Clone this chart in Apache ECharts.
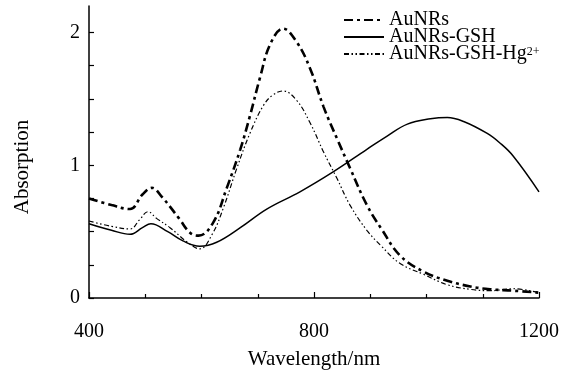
<!DOCTYPE html>
<html>
<head>
<meta charset="utf-8">
<script src="https://cdn.jsdelivr.net/npm/echarts@6/dist/echarts.min.js"></script>
<style>
  html, body { margin: 0; padding: 0; background: #fff; }
  #chart { width: 574px; height: 375px; }
</style>
</head>
<body>
<div id="chart"></div>
<script>
// Spectra: [wavelength (nm), absorption]
const aunrs = [
  [400, 0.75], [440, 0.70], [473, 0.67], [495, 0.78], [512, 0.83], [530, 0.76],
  [560, 0.60], [580, 0.49], [595, 0.47], [621, 0.57], [645, 0.83], [669, 1.12],
  [686, 1.37], [704, 1.66], [722, 1.91], [745, 2.03], [769, 1.93], [793, 1.73],
  [817, 1.44], [841, 1.20], [864, 0.98], [894, 0.70], [920, 0.52], [953, 0.32],
  [994, 0.20], [1037, 0.13], [1078, 0.087], [1113, 0.066], [1154, 0.055], [1200, 0.04]
];
const aunrsGsh = [
  [400, 0.56], [440, 0.51], [473, 0.48], [495, 0.53], [510, 0.56], [540, 0.50],
  [567, 0.43], [597, 0.39], [627, 0.42], [669, 0.53], [716, 0.67], [775, 0.80],
  [834, 0.95], [894, 1.12], [930, 1.22], [966, 1.31], [1007, 1.35], [1037, 1.36],
  [1066, 1.33], [1108, 1.24], [1130, 1.17], [1154, 1.07], [1200, 0.80]
];
const aunrsGshHg = [
  [400, 0.58], [440, 0.54], [473, 0.52], [490, 0.59], [505, 0.65], [520, 0.60],
  [544, 0.53], [575, 0.42], [597, 0.37], [619, 0.48], [639, 0.68], [663, 0.98],
  [686, 1.24], [710, 1.45], [727, 1.53], [745, 1.56], [769, 1.49], [793, 1.32],
  [817, 1.10], [841, 0.90], [864, 0.70], [894, 0.51], [920, 0.39], [953, 0.26],
  [994, 0.18], [1037, 0.10], [1078, 0.065], [1113, 0.055], [1154, 0.07], [1200, 0.04]
];
const seriesNames = ['AuNRs', 'AuNRs-GSH', 'AuNRs-GSH-Hg2+'];
const yTicks = [0, 0.25, 0.5, 0.75, 1, 1.25, 1.5, 1.75, 2];
const yLabels = [0, 1, 2];

const FONT = '"Liberation Serif", "DejaVu Serif", serif';
const chart = echarts.init(document.getElementById('chart'));

chart.setOption({
  backgroundColor: '#fff',
  animation: false,
  grid: { left: 89, right: 35, top: 6, bottom: 69 },
  legend: {
    orient: 'vertical',
    left: 343,
    top: 10,
    padding: 0,
    itemGap: -3,
    itemWidth: 40,
    itemHeight: 10,
    data: seriesNames,
    itemStyle: { opacity: 0 },
    textStyle: {
      fontFamily: FONT, fontSize: 20, color: '#000', lineHeight: 16,
      rich: {
        sup: { fontFamily: FONT, fontSize: 12, color: '#000', verticalAlign: 'top', lineHeight: 16, padding: [0, 0, 8, 0] }
      }
    },
    formatter: function (name) {
      return name === 'AuNRs-GSH-Hg2+' ? 'AuNRs-GSH-Hg{sup|2+}' : name;
    }
  },
  xAxis: {
    type: 'value',
    min: 400,
    max: 1200,
    interval: 400,
    name: 'Wavelength/nm',
    nameLocation: 'middle',
    nameGap: 51,
    nameTextStyle: { fontFamily: FONT, fontSize: 21, color: '#000' },
    axisLine: { lineStyle: { color: '#000', width: 1.5 } },
    axisTick: { inside: true, length: 6, lineStyle: { color: '#000', width: 1.2 } },
    minorTick: { show: true, splitNumber: 4, length: 4, lineStyle: { color: '#000', width: 1.2 } },
    axisLabel: { fontFamily: FONT, fontSize: 20, color: '#000', margin: 24, formatter: v => String(v) },
    splitLine: { show: false }
  },
  yAxis: {
    type: 'value',
    min: 0,
    max: 2.2,
    name: 'Absorption',
    nameLocation: 'middle',
    nameGap: 56,
    nameTextStyle: { fontFamily: FONT, fontSize: 21, color: '#000', padding: [0, 30, 0, 0] },
    axisLine: { show: true, lineStyle: { color: '#000', width: 1.5 } },
    axisTick: { show: true, inside: true, length: 5, customValues: yTicks, lineStyle: { color: '#000', width: 1.2 } },
    axisLabel: { fontFamily: FONT, fontSize: 20, color: '#000', margin: 9, customValues: yLabels },
    splitLine: { show: false }
  },
  series: [
    {
      name: seriesNames[0], type: 'line', data: aunrs, smooth: 0.4, symbol: 'none',
      itemStyle: { color: '#000' },
      lineStyle: { color: '#000', width: 2.6, type: [9, 4, 3, 4], cap: 'butt' }
    },
    {
      name: seriesNames[1], type: 'line', data: aunrsGsh, smooth: 0.4, symbol: 'none',
      itemStyle: { color: '#000' },
      lineStyle: { color: '#000', width: 1.5, type: 'solid' }
    },
    {
      name: seriesNames[2], type: 'line', data: aunrsGshHg, smooth: 0.4, symbol: 'none',
      itemStyle: { color: '#000' },
      lineStyle: { color: '#000', width: 1.2, type: [5, 2.5, 1.5, 2.5, 1.5, 2.5], cap: 'butt' }
    }
  ]
});
</script>
</body>
</html>
